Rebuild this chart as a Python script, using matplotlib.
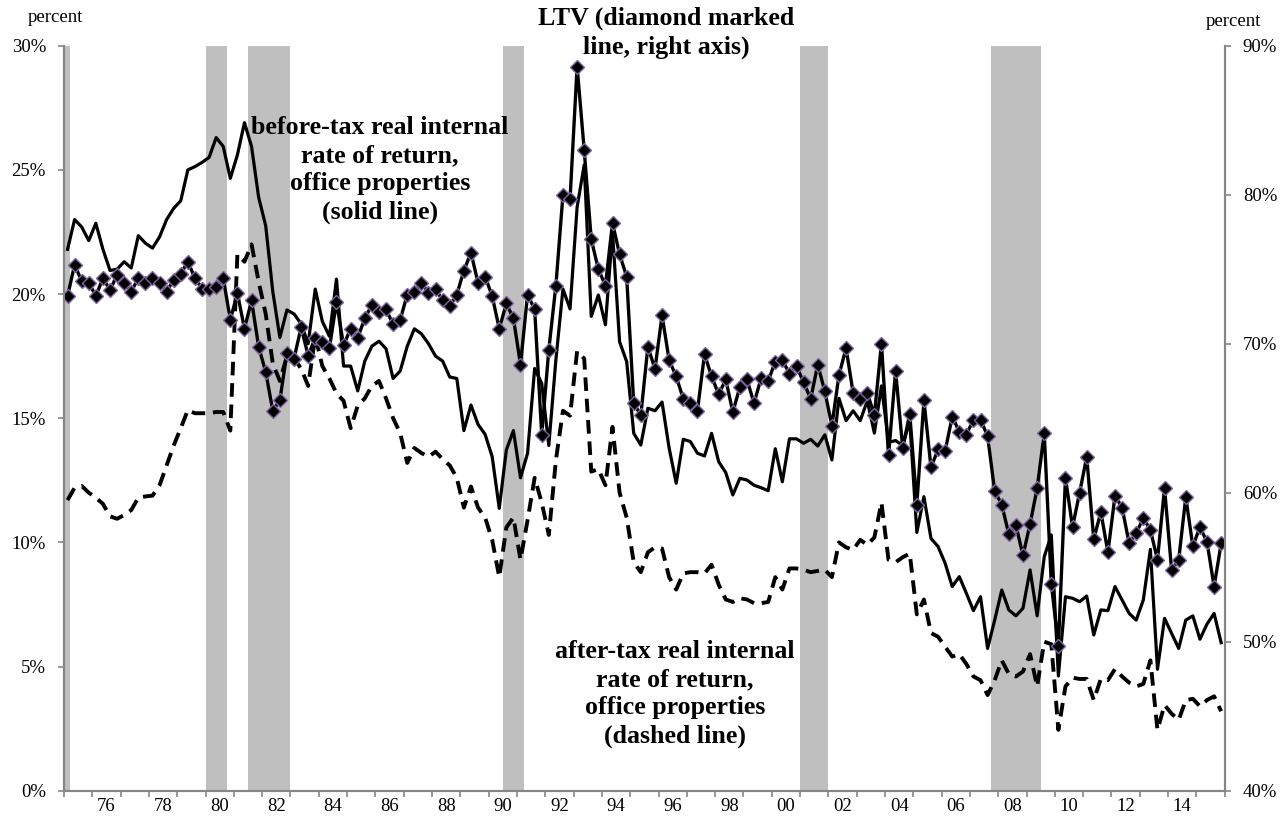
import numpy as np
import pandas as pd
import matplotlib
matplotlib.use('Agg')
import matplotlib.pyplot as plt

plt.rcParams['font.family'] = ['Liberation Serif', 'DejaVu Serif']

# quarterly data, 1975Q1 - 2015Q4
quarters = pd.period_range('1975Q1', '2015Q4', freq='Q')

# before-tax real IRR, office properties (percent, left axis)
irr_before = [
    21.8, 23.0, 22.7, 22.15, 22.85, 21.8, 20.95, 21.0, 21.3, 21.05,
    22.35, 22.05, 21.85, 22.3, 23.0, 23.45, 23.76, 25.0, 25.13, 25.3,
    25.5, 26.3, 25.94, 24.66, 25.6, 26.9, 25.94, 23.9, 22.75, 20.1,
    18.25, 19.36, 19.2, 18.8, 18.0, 20.2, 18.9, 18.3, 20.6, 17.1,
    17.1, 16.1, 17.3, 17.9, 18.1, 17.8, 16.6, 16.9, 17.9, 18.6,
    18.4, 18.0, 17.5, 17.3, 16.66, 16.6, 14.5, 15.53, 14.75, 14.35,
    13.45, 11.37, 13.72, 14.5, 12.6, 13.59, 17.0, 16.4, 13.9, 17.35,
    20.2, 19.4, 23.5, 25.2, 19.1, 19.96, 18.76, 22.5, 18.08, 17.28,
    14.39, 13.92, 15.4, 15.3, 15.65, 13.8, 12.38, 14.15, 14.06, 13.59,
    13.48, 14.39, 13.25, 12.81, 11.91, 12.58, 12.51, 12.3, 12.2, 12.08,
    13.77, 12.44, 14.17, 14.17, 13.99, 14.15, 13.88, 14.33, 13.32, 15.8,
    14.9, 15.3, 14.9, 15.7, 14.4, 16.3, 14.03, 14.1, 13.9, 14.9,
    10.4, 11.84, 10.16, 9.83, 9.16, 8.22, 8.62, 7.95, 7.25, 7.81,
    5.73, 6.87, 8.08, 7.28, 7.04, 7.35, 8.89, 7.04, 9.42, 10.3,
    4.62, 7.81, 7.75, 7.61, 7.84, 6.27, 7.28, 7.25, 8.22, 7.68,
    7.14, 6.87, 7.68, 9.72, 4.89, 6.94, 6.34, 5.73, 6.87, 7.04,
    6.1, 6.71, 7.14, 5.96,
]

# after-tax real IRR, office properties (percent, left axis)
irr_after = [
    11.7, 12.2, 12.27, 12.0, 11.8, 11.55, 11.05, 10.95, 11.1, 11.3,
    11.8, 11.85, 11.88, 12.3, 13.1, 13.9, 14.6, 15.33, 15.2, 15.2,
    15.2, 15.25, 15.25, 14.5, 21.6, 21.3, 22.0, 20.5, 19.2, 17.2,
    16.5, 17.5, 17.4, 17.0, 16.3, 18.3, 17.1, 16.6, 16.0, 15.7,
    14.6, 15.5, 15.8, 16.3, 16.5, 15.8, 15.0, 14.4, 13.2, 13.8,
    13.6, 13.45, 13.65, 13.35, 13.1, 12.6, 11.4, 12.25, 11.4, 11.0,
    10.1, 8.6, 10.6, 11.0, 9.3, 10.9, 12.6, 11.6, 10.3, 13.3,
    15.3, 15.1, 17.7, 17.4, 12.85, 12.95, 12.3, 14.65, 12.0, 11.0,
    9.2, 8.8, 9.6, 9.8, 9.75, 8.6, 8.1, 8.75, 8.8, 8.8,
    8.75, 9.1, 8.3, 7.7, 7.6, 7.75, 7.7, 7.55, 7.55, 7.6,
    8.6, 8.1, 8.95, 8.95, 8.9, 8.8, 8.85, 8.9, 8.6, 10.0,
    9.8, 9.7, 10.1, 9.9, 10.2, 11.6, 9.3, 9.2, 9.4, 9.55,
    7.1, 7.7, 6.35, 6.2, 5.8, 5.4, 5.5, 5.1, 4.6, 4.45,
    3.85, 4.45, 5.25, 4.7, 4.6, 4.8, 5.5, 4.2, 6.0, 5.9,
    2.45, 4.2, 4.55, 4.5, 4.5, 3.65, 4.5, 4.45, 4.9, 4.6,
    4.35, 4.2, 4.3, 5.25, 2.45, 3.45, 3.1, 2.85, 3.65, 3.7,
    3.4, 3.65, 3.8, 3.2,
]

# loan-to-value ratio (percent, right axis)
ltv = [
    73.2, 75.3, 74.2, 74.1, 73.2, 74.4, 73.6, 74.6, 74.1, 73.5,
    74.4, 74.1, 74.4, 74.1, 73.5, 74.3, 74.7, 75.5, 74.4, 73.7,
    73.7, 73.8, 74.4, 71.6, 73.4, 71.0, 72.9, 69.8, 68.1, 65.5,
    66.2, 69.4, 69.0, 71.1, 69.2, 70.4, 70.1, 69.7, 72.8, 69.9,
    71.0, 70.4, 71.7, 72.6, 72.1, 72.3, 71.3, 71.6, 73.3, 73.5,
    74.1, 73.4, 73.7, 72.9, 72.5, 73.3, 74.9, 76.1, 74.1, 74.5,
    73.2, 71.0, 72.7, 71.7, 68.6, 73.3, 72.3, 63.9, 69.6, 73.9,
    80.0, 79.7, 88.6, 83.0, 77.0, 75.0, 73.9, 78.1, 76.0, 74.5,
    66.0, 65.2, 69.8, 68.3, 71.9, 68.9, 67.8, 66.3, 66.0, 65.5,
    69.3, 67.8, 66.6, 67.6, 65.4, 67.1, 67.6, 66.0, 67.7, 67.5,
    68.8, 68.9, 68.0, 68.5, 67.4, 66.3, 68.6, 66.8, 64.5, 67.9,
    69.7, 66.7, 66.3, 66.7, 65.2, 70.0, 62.5, 68.2, 63.0, 65.3,
    59.2, 66.2, 61.7, 62.9, 62.8, 65.1, 64.1, 63.9, 64.9, 64.9,
    63.8, 60.1, 59.2, 57.2, 57.8, 55.8, 57.9, 60.3, 64.0, 53.9,
    49.7, 61.0, 57.7, 60.0, 62.4, 56.9, 58.7, 56.0, 59.8, 59.0,
    56.6, 57.3, 58.3, 57.5, 55.5, 60.3, 54.8, 55.5, 59.7, 56.4,
    57.7, 56.7, 53.7, 56.6,
]

# NBER recessions (start, end) in decimal years, quarterly shading
recessions = [(1975.05, 1975.22), (1980.0, 1980.75), (1981.5, 1983.0),
              (1990.5, 1991.25), (2001.0, 2002.0), (2007.75, 2009.5)]

label_years = list(range(1976, 2015, 2))
year_labels = ['%02d' % (y % 100) for y in label_years]

x = quarters.year + (quarters.quarter - 1) / 4 + 0.125

W, H = 1288, 825
fig = plt.figure(figsize=(W / 100, H / 100), dpi=100)
left, right, bottom, top = 64, 1224.7, 790.7, 45.7
ax = fig.add_axes([left / W, (H - bottom) / H, (right - left) / W, (bottom - top) / H])
ax2 = ax.twinx()

grey = '#868686'

for s, e in recessions:
    ax.axvspan(s, e, color='#bfbfbf', lw=0, zorder=0)

ax.plot(x, irr_before, color='black', lw=2.3, zorder=3)
ax.plot(x, irr_after, color='black', lw=2.8, dashes=(3.5, 2.0), zorder=3)
ax2.plot(x, ltv, color='black', lw=2.4, marker='D', markersize=7.5,
         markerfacecolor='black', markeredgecolor='#8064a2', markeredgewidth=1.0)

ax.set_xlim(1975, 2016)
ax.set_ylim(0, 30)
ax2.set_ylim(40, 90)

ax.set_yticks(range(0, 31, 5))
ax.set_yticklabels(['%d%%' % v for v in range(0, 31, 5)])
ax2.set_yticks(range(40, 91, 10))
ax2.set_yticklabels(['%d%%' % v for v in range(40, 91, 10)])

ax.set_xticks(range(1975, 2017))
ax.set_xticklabels([])
ax.set_xticks([y + 0.5 for y in label_years], minor=True)
ax.set_xticklabels(year_labels, minor=True)

for a in (ax, ax2):
    a.spines['top'].set_visible(False)
    for side in ('left', 'right', 'bottom'):
        a.spines[side].set_color(grey)
        a.spines[side].set_linewidth(1.5)

ax.tick_params(axis='x', which='major', direction='out', length=4.5, width=1.2,
               color=grey)
ax.tick_params(axis='x', which='minor', length=0, pad=5, labelsize=13.5)
ax.tick_params(axis='y', direction='out', length=4, width=1.2, color=grey,
               labelsize=13.5, pad=9)
ax2.tick_params(axis='y', direction='out', length=4, width=1.2, color=grey,
                labelsize=13.5, pad=9)

fig.text(55 / W, 1 - 17 / H, 'percent', ha='center', va='center', fontsize=13.5)
fig.text(1233 / W, 1 - 21 / H, 'percent', ha='center', va='center', fontsize=13.5)

note = dict(ha='center', va='center', fontsize=18.6, fontweight='bold',
            linespacing=1.3)
fig.text(666 / W, 1 - 33 / H, 'LTV (diamond marked\nline, right axis)', **note)
fig.text(380 / W, 1 - 170 / H,
         'before-tax real internal\nrate of return,\noffice properties\n(solid line)',
         **note)
fig.text(675 / W, 1 - 694 / H,
         'after-tax real internal\nrate of return,\noffice properties\n(dashed line)',
         **note)

fig.savefig('out.png', dpi=100)
